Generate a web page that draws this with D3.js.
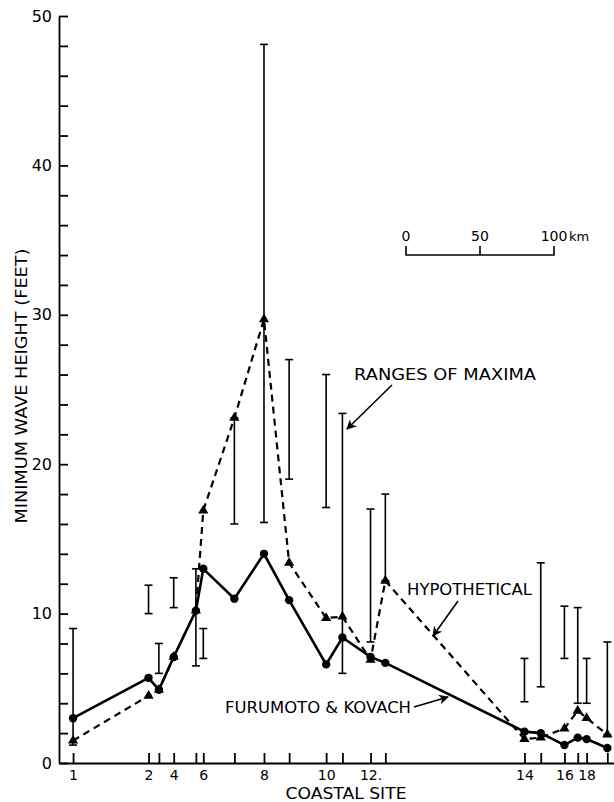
<!DOCTYPE html>
<html>
<head>
<meta charset="utf-8">
<script src="https://cdn.jsdelivr.net/npm/d3@7"></script>
<style>
    body { margin: 0; background: #fff; }
    svg { display: block; }
    text { font-family: 'DejaVu Sans', sans-serif; fill: #000; }
</style>
</head>
<body>
<div class="chart"></div>
<script>
// coastal sites and their distance along the coast (km, site 1 = 0)
let sites = [1, 2, 3, 4, 5, 6, 7, 8, 9, 10, 11, 12, 13, 14, 15, 16, 17, 18, 19];
let site_km = [0, 51, 58, 68, 83, 88, 109, 129, 146, 171, 182, 201, 211, 305, 316, 332, 341, 347, 361];
let site_labels = {1: '1', 2: '2', 4: '4', 6: '6', 8: '8', 10: '10', 12: '12.', 14: '14', 16: '16', 18: '18'};

// minimum wave height (feet)
let furumoto = [3.0, 5.7, 4.9, 7.1, 10.2, 13.0, 11.0, 14.0, 10.9, 6.6, 8.4, 7.1, 6.7, 2.1, 2.0, 1.2, 1.7, 1.6, 1.0];
let hypothetical = [1.5, 4.5, 4.9, 7.1, 10.2, 16.9, 23.1, 29.7, 13.4, 9.7, 9.8, 6.9, 12.2, 1.6, 1.7, 2.3, 3.5, 3.0, 1.9];

// ranges of maxima (low, high)
let range_low = [1.2, 10.0, 6.0, 10.4, 6.5, 7.0, 16.0, 16.1, 19.0, 17.1, 6.0, 8.1, 12.2, 4.1, 5.1, 7.0, 4.0, 4.0, 1.9];
let range_high = [9.0, 11.9, 8.0, 12.4, 13.0, 9.0, 23.1, 48.1, 27.0, 26.0, 23.4, 17.0, 18.0, 7.0, 13.4, 10.5, 10.4, 7.0, 8.1];

let y_ticks = d3.range(0, 51, 2);
let scale_km = [0, 50, 100];

let width = 614, height = 802;
let fontFamily = "'DejaVu Sans', sans-serif";

let svg = d3.select('.chart')
    .append('svg')
    .attr('width', width)
    .attr('height', height);

let x = d3.scaleLinear()
    .domain([-9.5, 365.5])
    .range([59, 614]);
let y = d3.scaleLinear()
    .domain([0, 50])
    .range([763, 16]);

// arrow marker
svg.append('defs').append('marker')
    .attr('id', 'arrow')
    .attr('viewBox', '0 0 10 10')
    .attr('refX', 9).attr('refY', 5)
    .attr('markerWidth', 14).attr('markerHeight', 10)
    .attr('markerUnits', 'userSpaceOnUse')
    .attr('orient', 'auto')
    .append('path')
    .attr('d', 'M0,0 L10,5 L0,10 L3,5 Z')
    .attr('fill', '#000');

// y axis
let axis_y = d3.axisLeft(y)
    .tickValues(y_ticks)
    .tickSize(-9)
    .tickSizeOuter(0)
    .tickPadding(7)
    .tickFormat(d => d % 10 === 0 ? d : '');
svg.append('g')
    .attr('transform', `translate(${x.range()[0]}, 0)`)
    .call(axis_y)
    .attr('font-family', fontFamily)
    .attr('font-size', '16px')
    .call(g => g.selectAll('line, path').attr('stroke', '#000').attr('stroke-width', 1.8))
    .call(g => g.selectAll('text').attr('fill', '#000'));

// x axis
let axis_x = d3.axisBottom(x)
    .tickValues(site_km)
    .tickSize(-10)
    .tickSizeOuter(0)
    .tickPadding(7)
    .tickFormat((d, i) => site_labels[sites[i]] || '');
svg.append('g')
    .attr('transform', `translate(0, ${y(0)})`)
    .call(axis_x)
    .attr('font-family', fontFamily)
    .attr('font-size', '14px')
    .call(g => g.selectAll('line, path').attr('stroke', '#000').attr('stroke-width', 1.8))
    .call(g => g.selectAll('text').attr('fill', '#000'));

// axis labels
svg.append('text')
    .attr('transform', `translate(27, 386) rotate(-90)`)
    .attr('text-anchor', 'middle')
    .attr('font-size', '15px')
    .attr('textLength', 275)
    .attr('lengthAdjust', 'spacingAndGlyphs')
    .text('MINIMUM WAVE HEIGHT (FEET)');
svg.append('text')
    .attr('x', 346).attr('y', 799)
    .attr('text-anchor', 'middle')
    .attr('font-size', '15px')
    .attr('textLength', 121)
    .attr('lengthAdjust', 'spacingAndGlyphs')
    .text('COASTAL SITE');

// ranges of maxima
let bars = svg.append('g').attr('stroke', '#000').attr('stroke-width', 1.6);
site_km.forEach((k, i) => {
    let cx = x(k);
    bars.append('line')
        .attr('x1', cx).attr('x2', cx)
        .attr('y1', y(range_low[i])).attr('y2', y(range_high[i]));
    [range_low[i], range_high[i]].forEach(v => {
        bars.append('line')
            .attr('x1', cx - 4).attr('x2', cx + 4)
            .attr('y1', y(v)).attr('y2', y(v));
    });
});

// hypothetical (dashed, triangles)
let line = d3.line()
    .x((d, i) => x(site_km[i]))
    .y(d => y(d));
svg.append('path')
    .datum(hypothetical)
    .attr('d', line)
    .attr('fill', 'none')
    .attr('stroke', '#000')
    .attr('stroke-width', 2.2)
    .attr('stroke-dasharray', '7,5');
svg.append('g')
    .selectAll('path')
    .data(hypothetical)
    .enter().append('path')
    .attr('d', d3.symbol().type(d3.symbolTriangle).size(45))
    .attr('transform', (d, i) => `translate(${x(site_km[i])}, ${y(d)})`)
    .attr('fill', '#000');

// furumoto & kovach (solid, circles)
svg.append('path')
    .datum(furumoto)
    .attr('d', line)
    .attr('fill', 'none')
    .attr('stroke', '#000')
    .attr('stroke-width', 2.6);
svg.append('g')
    .selectAll('circle')
    .data(furumoto)
    .enter().append('circle')
    .attr('cx', (d, i) => x(site_km[i]))
    .attr('cy', d => y(d))
    .attr('r', 4.2)
    .attr('fill', '#000');

// scale bar
let sb_x0 = 406, sb_y = 255;
let sb = svg.append('g').attr('transform', `translate(${sb_x0 - x(0)}, ${sb_y})`);
sb.append('path')
    .attr('d', `M${x(0)},-9 V0 H${x(100)} V-9 M${x(50)},0 V-9`)
    .attr('fill', 'none')
    .attr('stroke', '#000')
    .attr('stroke-width', 1.6);
scale_km.forEach(k => {
    sb.append('text')
        .attr('x', x(k)).attr('y', -14)
        .attr('text-anchor', 'middle')
        .attr('font-size', '14px')
        .text(k);
});
sb.append('text')
    .attr('x', x(100) + 15).attr('y', -14)
    .attr('font-size', '13px')
    .text('km');

// annotations
let notes = [
    {text: 'RANGES OF MAXIMA', x: 354, y: 380, len: 182, from: [392, 385], to: [347, 429]},
    {text: 'HYPOTHETICAL', x: 407, y: 595, len: 125, from: [458, 601], to: [433, 636]},
    {text: 'FURUMOTO & KOVACH', x: 225, y: 713, len: 186, from: [414, 707], to: [448, 697]}
];
notes.forEach(n => {
    svg.append('text')
        .attr('x', n.x).attr('y', n.y)
        .attr('font-size', '15px')
        .attr('textLength', n.len)
        .attr('lengthAdjust', 'spacingAndGlyphs')
        .text(n.text);
    svg.append('line')
        .attr('x1', n.from[0]).attr('y1', n.from[1])
        .attr('x2', n.to[0]).attr('y2', n.to[1])
        .attr('stroke', '#000')
        .attr('stroke-width', 1.6)
        .attr('marker-end', 'url(#arrow)');
});
</script>
</body>
</html>
